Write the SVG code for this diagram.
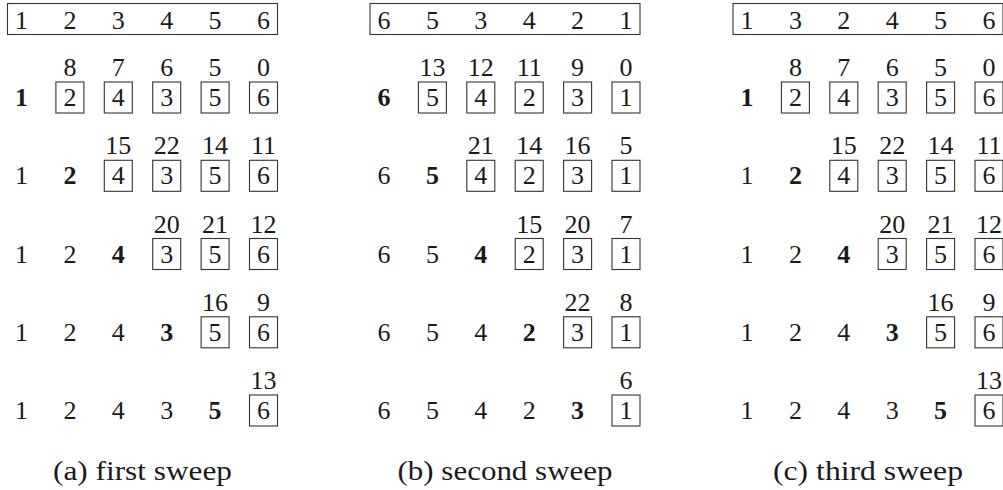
<svg xmlns="http://www.w3.org/2000/svg" width="1003" height="490" viewBox="0 0 1003 490">
<style>
text{font-family:'Liberation Serif','Times New Roman',serif;font-size:26px;fill:#1a1a1a;text-anchor:middle}
.b{font-weight:bold}
.cap{font-size:27px}
rect{fill:none;stroke:#333;stroke-width:1.1}
</style>
<rect x="0" y="0" width="1003" height="490" style="fill:#fff;stroke:none"/>
<g id="panel-a" transform="translate(21.5,0)">
 <g id="a-top"><rect x="-14" y="3.5" width="270" height="31"/>
  <text x="0" y="28.5">1</text><text x="48.4" y="28.5">2</text><text x="96.8" y="28.5">3</text><text x="145.2" y="28.5">4</text><text x="193.6" y="28.5">5</text><text x="242" y="28.5">6</text></g>
 <g id="a-r1">
  <text class="b" x="0" y="106">1</text>
  <text x="48.4" y="76">8</text><text x="96.8" y="76">7</text><text x="145.2" y="76">6</text><text x="193.6" y="76">5</text><text x="242" y="76">0</text>
  <rect x="34.4" y="82" width="28" height="31"/><text x="48.4" y="106">2</text>
  <rect x="82.8" y="82" width="28" height="31"/><text x="96.8" y="106">4</text>
  <rect x="131.2" y="82" width="28" height="31"/><text x="145.2" y="106">3</text>
  <rect x="179.6" y="82" width="28" height="31"/><text x="193.6" y="106">5</text>
  <rect x="228" y="82" width="28" height="31"/><text x="242" y="106">6</text>
 </g>
 <g id="a-r2">
  <text x="0" y="184.3">1</text><text class="b" x="48.4" y="184.3">2</text>
  <text x="96.8" y="154.3">15</text><text x="145.2" y="154.3">22</text><text x="193.6" y="154.3">14</text><text x="242" y="154.3">11</text>
  <rect x="82.8" y="160.3" width="28" height="31"/><text x="96.8" y="184.3">4</text>
  <rect x="131.2" y="160.3" width="28" height="31"/><text x="145.2" y="184.3">3</text>
  <rect x="179.6" y="160.3" width="28" height="31"/><text x="193.6" y="184.3">5</text>
  <rect x="228" y="160.3" width="28" height="31"/><text x="242" y="184.3">6</text>
 </g>
 <g id="a-r3">
  <text x="0" y="262.5">1</text><text x="48.4" y="262.5">2</text><text class="b" x="96.8" y="262.5">4</text>
  <text x="145.2" y="232.5">20</text><text x="193.6" y="232.5">21</text><text x="242" y="232.5">12</text>
  <rect x="131.2" y="238.5" width="28" height="31"/><text x="145.2" y="262.5">3</text>
  <rect x="179.6" y="238.5" width="28" height="31"/><text x="193.6" y="262.5">5</text>
  <rect x="228" y="238.5" width="28" height="31"/><text x="242" y="262.5">6</text>
 </g>
 <g id="a-r4">
  <text x="0" y="340.8">1</text><text x="48.4" y="340.8">2</text><text x="96.8" y="340.8">4</text><text class="b" x="145.2" y="340.8">3</text>
  <text x="193.6" y="310.8">16</text><text x="242" y="310.8">9</text>
  <rect x="179.6" y="316.8" width="28" height="31"/><text x="193.6" y="340.8">5</text>
  <rect x="228" y="316.8" width="28" height="31"/><text x="242" y="340.8">6</text>
 </g>
 <g id="a-r5">
  <text x="0" y="419">1</text><text x="48.4" y="419">2</text><text x="96.8" y="419">4</text><text x="145.2" y="419">3</text><text class="b" x="193.6" y="419">5</text>
  <text x="242" y="389">13</text>
  <rect x="228" y="395" width="28" height="31"/><text x="242" y="419">6</text>
 </g>
 <text id="a-cap" class="cap" x="121" y="480" textLength="179" lengthAdjust="spacingAndGlyphs">(a) first sweep</text>
</g>
<g id="panel-b" transform="translate(384,0)">
 <g id="b-top"><rect x="-14" y="3.5" width="270" height="31"/>
  <text x="0" y="28.5">6</text><text x="48.4" y="28.5">5</text><text x="96.8" y="28.5">3</text><text x="145.2" y="28.5">4</text><text x="193.6" y="28.5">2</text><text x="242" y="28.5">1</text></g>
 <g id="b-r1">
  <text class="b" x="0" y="106">6</text>
  <text x="48.4" y="76">13</text><text x="96.8" y="76">12</text><text x="145.2" y="76">11</text><text x="193.6" y="76">9</text><text x="242" y="76">0</text>
  <rect x="34.4" y="82" width="28" height="31"/><text x="48.4" y="106">5</text>
  <rect x="82.8" y="82" width="28" height="31"/><text x="96.8" y="106">4</text>
  <rect x="131.2" y="82" width="28" height="31"/><text x="145.2" y="106">2</text>
  <rect x="179.6" y="82" width="28" height="31"/><text x="193.6" y="106">3</text>
  <rect x="228" y="82" width="28" height="31"/><text x="242" y="106">1</text>
 </g>
 <g id="b-r2">
  <text x="0" y="184.3">6</text><text class="b" x="48.4" y="184.3">5</text>
  <text x="96.8" y="154.3">21</text><text x="145.2" y="154.3">14</text><text x="193.6" y="154.3">16</text><text x="242" y="154.3">5</text>
  <rect x="82.8" y="160.3" width="28" height="31"/><text x="96.8" y="184.3">4</text>
  <rect x="131.2" y="160.3" width="28" height="31"/><text x="145.2" y="184.3">2</text>
  <rect x="179.6" y="160.3" width="28" height="31"/><text x="193.6" y="184.3">3</text>
  <rect x="228" y="160.3" width="28" height="31"/><text x="242" y="184.3">1</text>
 </g>
 <g id="b-r3">
  <text x="0" y="262.5">6</text><text x="48.4" y="262.5">5</text><text class="b" x="96.8" y="262.5">4</text>
  <text x="145.2" y="232.5">15</text><text x="193.6" y="232.5">20</text><text x="242" y="232.5">7</text>
  <rect x="131.2" y="238.5" width="28" height="31"/><text x="145.2" y="262.5">2</text>
  <rect x="179.6" y="238.5" width="28" height="31"/><text x="193.6" y="262.5">3</text>
  <rect x="228" y="238.5" width="28" height="31"/><text x="242" y="262.5">1</text>
 </g>
 <g id="b-r4">
  <text x="0" y="340.8">6</text><text x="48.4" y="340.8">5</text><text x="96.8" y="340.8">4</text><text class="b" x="145.2" y="340.8">2</text>
  <text x="193.6" y="310.8">22</text><text x="242" y="310.8">8</text>
  <rect x="179.6" y="316.8" width="28" height="31"/><text x="193.6" y="340.8">3</text>
  <rect x="228" y="316.8" width="28" height="31"/><text x="242" y="340.8">1</text>
 </g>
 <g id="b-r5">
  <text x="0" y="419">6</text><text x="48.4" y="419">5</text><text x="96.8" y="419">4</text><text x="145.2" y="419">2</text><text class="b" x="193.6" y="419">3</text>
  <text x="242" y="389">6</text>
  <rect x="228" y="395" width="28" height="31"/><text x="242" y="419">1</text>
 </g>
 <text id="b-cap" class="cap" x="121" y="480" textLength="215" lengthAdjust="spacingAndGlyphs">(b) second sweep</text>
</g>
<g id="panel-c" transform="translate(747,0)">
 <g id="c-top"><rect x="-14" y="3.5" width="270" height="31"/>
  <text x="0" y="28.5">1</text><text x="48.4" y="28.5">3</text><text x="96.8" y="28.5">2</text><text x="145.2" y="28.5">4</text><text x="193.6" y="28.5">5</text><text x="242" y="28.5">6</text></g>
 <g id="c-r1">
  <text class="b" x="0" y="106">1</text>
  <text x="48.4" y="76">8</text><text x="96.8" y="76">7</text><text x="145.2" y="76">6</text><text x="193.6" y="76">5</text><text x="242" y="76">0</text>
  <rect x="34.4" y="82" width="28" height="31"/><text x="48.4" y="106">2</text>
  <rect x="82.8" y="82" width="28" height="31"/><text x="96.8" y="106">4</text>
  <rect x="131.2" y="82" width="28" height="31"/><text x="145.2" y="106">3</text>
  <rect x="179.6" y="82" width="28" height="31"/><text x="193.6" y="106">5</text>
  <rect x="228" y="82" width="28" height="31"/><text x="242" y="106">6</text>
 </g>
 <g id="c-r2">
  <text x="0" y="184.3">1</text><text class="b" x="48.4" y="184.3">2</text>
  <text x="96.8" y="154.3">15</text><text x="145.2" y="154.3">22</text><text x="193.6" y="154.3">14</text><text x="242" y="154.3">11</text>
  <rect x="82.8" y="160.3" width="28" height="31"/><text x="96.8" y="184.3">4</text>
  <rect x="131.2" y="160.3" width="28" height="31"/><text x="145.2" y="184.3">3</text>
  <rect x="179.6" y="160.3" width="28" height="31"/><text x="193.6" y="184.3">5</text>
  <rect x="228" y="160.3" width="28" height="31"/><text x="242" y="184.3">6</text>
 </g>
 <g id="c-r3">
  <text x="0" y="262.5">1</text><text x="48.4" y="262.5">2</text><text class="b" x="96.8" y="262.5">4</text>
  <text x="145.2" y="232.5">20</text><text x="193.6" y="232.5">21</text><text x="242" y="232.5">12</text>
  <rect x="131.2" y="238.5" width="28" height="31"/><text x="145.2" y="262.5">3</text>
  <rect x="179.6" y="238.5" width="28" height="31"/><text x="193.6" y="262.5">5</text>
  <rect x="228" y="238.5" width="28" height="31"/><text x="242" y="262.5">6</text>
 </g>
 <g id="c-r4">
  <text x="0" y="340.8">1</text><text x="48.4" y="340.8">2</text><text x="96.8" y="340.8">4</text><text class="b" x="145.2" y="340.8">3</text>
  <text x="193.6" y="310.8">16</text><text x="242" y="310.8">9</text>
  <rect x="179.6" y="316.8" width="28" height="31"/><text x="193.6" y="340.8">5</text>
  <rect x="228" y="316.8" width="28" height="31"/><text x="242" y="340.8">6</text>
 </g>
 <g id="c-r5">
  <text x="0" y="419">1</text><text x="48.4" y="419">2</text><text x="96.8" y="419">4</text><text x="145.2" y="419">3</text><text class="b" x="193.6" y="419">5</text>
  <text x="242" y="389">13</text>
  <rect x="228" y="395" width="28" height="31"/><text x="242" y="419">6</text>
 </g>
 <text id="c-cap" class="cap" x="121" y="480" textLength="190" lengthAdjust="spacingAndGlyphs">(c) third sweep</text>
</g>
</svg>
